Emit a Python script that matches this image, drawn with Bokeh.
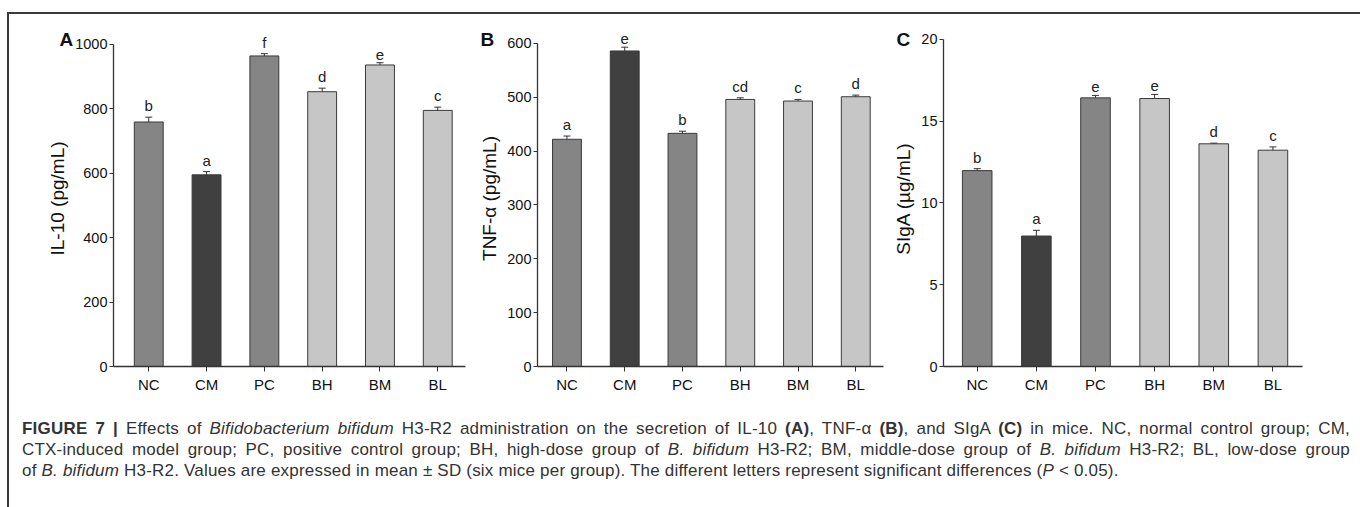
from bokeh.plotting import figure
from bokeh.models import (ColumnDataSource, Whisker, LabelSet, FixedTicker,
                          Div, TeeHead, Range1d)
from bokeh.core.properties import value
from bokeh.layouts import row, column
from bokeh.embed import file_html
from bokeh.resources import INLINE

# ---------------- data ----------------
cats = ["NC", "CM", "PC", "BH", "BM", "BL"]
bar_colors = ["#858585", "#404040", "#858585", "#c6c6c6", "#c6c6c6", "#c6c6c6"]

il10 = [759, 595, 964, 853, 936, 795]
il10_sd = [15, 10, 7, 11, 7, 10]
il10_sig = ["b", "a", "f", "d", "e", "c"]
il10_ticks = [0, 200, 400, 600, 800, 1000]

tnf = [422, 586, 433, 496, 493, 501]
tnf_sd = [6, 7, 4, 3, 3, 3]
tnf_sig = ["a", "e", "b", "cd", "c", "d"]
tnf_ticks = [0, 100, 200, 300, 400, 500, 600]

siga = [11.98, 7.98, 16.43, 16.39, 13.62, 13.23]
siga_sd = [0.12, 0.35, 0.15, 0.25, 0.04, 0.2]
siga_sig = ["b", "a", "e", "e", "d", "c"]
siga_ticks = [0, 5, 10, 15, 20]

SANS = "Liberation Sans"
AX = "#333333"


def panel(vals, sds, sigs, ticks, yend, ylabel, letter, letter_off,
          padl, padr, width, mbl, mbr, mbb):
    xs = list(range(1, len(cats) + 1))
    src = ColumnDataSource(dict(
        x=xs, top=vals, color=bar_colors, sig=sigs,
        up=[v + s for v, s in zip(vals, sds)],
        lo=[v - s for v, s in zip(vals, sds)],
    ))
    p = figure(width=width, height=381, output_backend="svg", toolbar_location=None,
               x_range=Range1d(1 - padl, len(cats) + padr), y_range=Range1d(0, yend),
               min_border_left=mbl, min_border_right=mbr, min_border_top=16,
               min_border_bottom=mbb, outline_line_color=None,
               background_fill_color="white", border_fill_color="white")
    p.grid.visible = False
    p.vbar(x="x", top="top", width=0.5, source=src, fill_color="color",
           line_color="#3a3a3a", line_width=1)
    p.add_layout(Whisker(source=src, base="x", upper="up", lower="lo",
                         line_color=AX, line_width=1,
                         upper_head=TeeHead(size=7, line_color=AX, line_width=1),
                         lower_head=TeeHead(size=7, line_color=AX, line_width=1)))
    p.add_layout(LabelSet(x="x", y="up", text="sig", source=src, text_align="center",
                          text_baseline="bottom", y_offset=3, text_font=value(SANS),
                          text_font_size=value("15px"), text_color="#222222"))
    # panel letter as a title pulled into place
    p.title.text = letter
    p.title.align = "left"
    p.title.offset = letter_off
    p.title.standoff = -38
    p.title.vertical_align = "bottom"
    p.title.text_font = SANS
    p.title.text_font_style = "bold"
    p.title.text_font_size = "19px"
    p.title.text_color = "#111111"
    # x axis
    xa = p.xaxis[0]
    xa.ticker = FixedTicker(ticks=xs)
    xa.major_label_overrides = {x: c for x, c in zip(xs, cats)}
    xa.major_tick_in = 0
    xa.major_tick_out = 5
    xa.minor_tick_line_color = None
    xa.axis_line_color = AX
    xa.axis_line_width = 1.3
    xa.major_tick_line_color = AX
    xa.major_label_text_font = SANS
    xa.major_label_text_font_size = "15px"
    xa.major_label_text_color = "#111111"
    xa.major_label_standoff = 4
    # y axis
    ya = p.yaxis[0]
    ya.ticker = FixedTicker(ticks=ticks)
    ya.bounds = (0, ticks[-1])
    ya.major_tick_in = 0
    ya.major_tick_out = 4
    ya.minor_tick_line_color = None
    ya.axis_line_color = AX
    ya.axis_line_width = 1.3
    ya.major_tick_line_color = AX
    ya.major_label_text_font = SANS
    ya.major_label_text_font_size = "14.5px"
    ya.major_label_text_color = "#111111"
    ya.major_label_standoff = 2
    ya.axis_label = ylabel
    ya.axis_label_text_font = SANS
    ya.axis_label_text_font_style = "normal"
    ya.axis_label_text_font_size = "19px"
    ya.axis_label_text_color = "#111111"
    ya.axis_label_standoff = 4
    return p


pA = panel(il10, il10_sd, il10_sig, il10_ticks, 1043, "IL-10 (pg/mL)", "A", -54,
           0.61, 0.48, 466, 104, 10, 27)
pB = panel(tnf, tnf_sd, tnf_sig, tnf_ticks, 624, "TNF-α (pg/mL)", "B", -57,
           0.51, 0.48, 415, 62, 7, 28)
pC = panel(siga, siga_sd, siga_sig, siga_ticks, 20.55, "SIgA (µg/mL)", "C", -47,
           0.57, 0.50, 463, 49, 51, 29)

LINE = ("display:block;width:1328px;text-align:justify;"
        "text-align-last:justify;white-space:nowrap;")
LAST = "display:block;width:1328px;text-align:left;white-space:nowrap;"
cap_html = (
    '<div style="display:block;width:1344px;box-sizing:border-box;'
    'font-family:\'Liberation Sans\',Arial,sans-serif;font-size:17px;letter-spacing:0.2px;'
    'line-height:21px;color:#333333;padding:18px 8px 0 8px;">'
    f'<div style="{LINE}"><b>FIGURE 7 |</b> Effects of <i>Bifidobacterium bifidum</i> H3-R2 '
    'administration on the secretion of IL-10 <b>(A)</b>, TNF-α <b>(B)</b>, and SIgA '
    '<b>(C)</b> in mice. NC, normal control group; CM,</div>'
    f'<div style="{LINE}">CTX-induced model group; PC, positive control group; BH, high-dose '
    'group of <i>B. bifidum</i> H3-R2; BM, middle-dose group of <i>B. bifidum</i> H3-R2; '
    'BL, low-dose group</div>'
    f'<div style="{LAST}">of <i>B. bifidum</i> H3-R2. Values are expressed in mean ± SD (six mice per '
    'group). The different letters represent significant differences (<i>P</i> &lt; 0.05).</div>'
    '</div>'
)
cap = Div(text=cap_html, width=1344, height=108)

layout = column(row(pA, pB, pC), cap, margin=(12, 0, 0, 7),
                styles={"border-top": "2px solid #3a3a3a",
                        "border-left": "2px solid #3a3a3a",
                        "border-right": "2px solid #3a3a3a",
                        "background": "white"})

open("out.html", "w").write(file_html(layout, INLINE))
